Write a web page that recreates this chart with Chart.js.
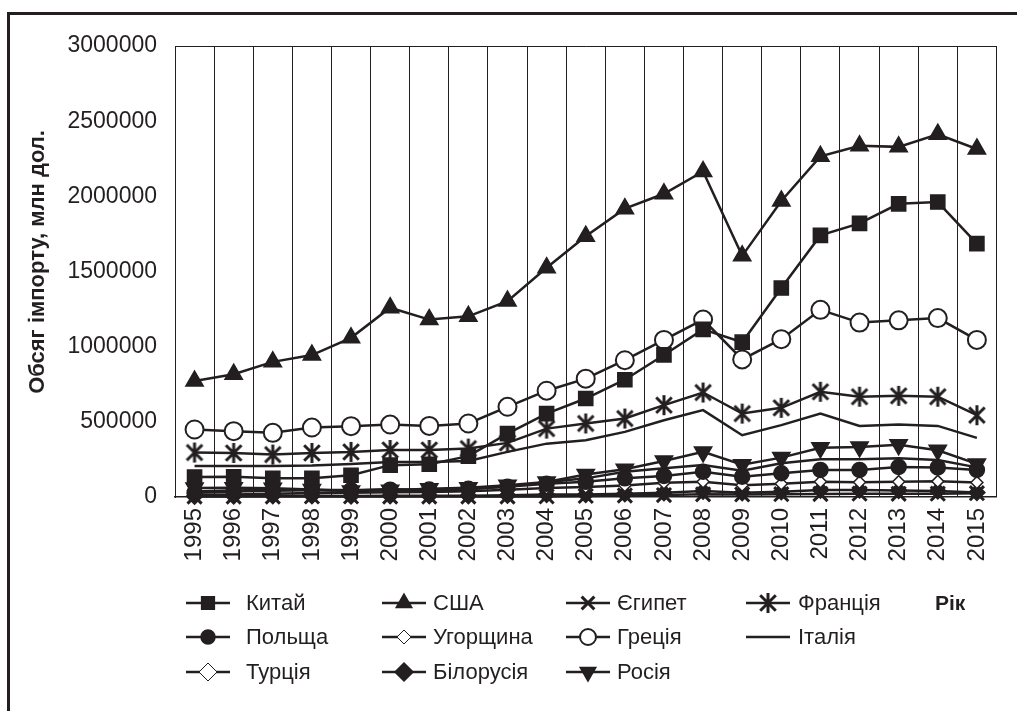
<!DOCTYPE html>
<html lang="uk">
<head>
<meta charset="UTF-8">
<title>Обсяг імпорту</title>
<script src="https://cdn.jsdelivr.net/npm/chart.js"></script>
<style>
  body { margin: 0; background: #fff; }
</style>
</head>
<body>
<canvas id="myChart" width="1017" height="711"></canvas>
<script>
// роки і дані (млн дол.)
const years = ['1995','1996','1997','1998','1999','2000','2001','2002','2003','2004','2005',
               '2006','2007','2008','2009','2010','2011','2012','2013','2014','2015'];
const yTicks = [0, 500000, 1000000, 1500000, 2000000, 2500000, 3000000];

const china   = [133000, 135000, 125000, 125000, 145000, 212000, 218000, 272000, 422000, 555000, 655000,
                 780000, 945000, 1115000, 1030000, 1390000, 1740000, 1820000, 1950000, 1962000, 1685000];
const usa     = [771000, 817000, 899000, 944000, 1059000, 1259000, 1180000, 1202000, 1303000, 1525000, 1735000,
                 1918000, 2017000, 2165000, 1604000, 1969000, 2266000, 2336000, 2329000, 2413000, 2315000];
const egypt   = [3000, 3000, 3000, 3500, 3500, 3000, 3000, 3000, 3000, 4000, 7000,
                 10000, 13000, 18000, 17000, 19000, 20000, 22000, 21000, 22000, 25000];
const france  = [296000, 293000, 282000, 293000, 300000, 313000, 313000, 322000, 360000, 455000, 489000,
                 522000, 611000, 695000, 555000, 593000, 700000, 667000, 673000, 667000, 544000];
const poland  = [29000, 37000, 42000, 47000, 46000, 49000, 50000, 55000, 68000, 88000, 101000,
                 124000, 140000, 168000, 135000, 158000, 180000, 180000, 200000, 197000, 180000];
const hungary = [15000, 16000, 21000, 26000, 28000, 32000, 34000, 38000, 48000, 60000, 66000,
                 77000, 94000, 102000, 78000, 88000, 102000, 98000, 102000, 104000, 96000];
const greece  = [449000, 438000, 427000, 462000, 471000, 482000, 473000, 489000, 600000, 707000, 787000,
                 910000, 1045000, 1180000, 915000, 1050000, 1245000, 1160000, 1175000, 1190000, 1045000];
const italy   = [207000, 207000, 207000, 210000, 220000, 233000, 233000, 240000, 300000, 355000, 378000,
                 433000, 511000, 578000, 411000, 478000, 555000, 473000, 482000, 473000, 393000];
const turkey  = [36000, 43000, 49000, 46000, 41000, 54000, 41000, 52000, 69000, 98000, 124000,
                 168000, 191000, 213000, 175000, 224000, 251000, 251000, 257000, 246000, 197000];
const belarus = [5500, 7000, 8700, 8500, 6700, 8600, 8300, 9100, 11600, 16500, 16700,
                 22300, 28700, 39400, 28600, 34900, 45800, 46400, 43000, 40500, 30300];
const russia  = [60000, 62000, 58000, 50000, 40000, 45000, 55000, 62000, 78000, 100000, 150000,
                 185000, 240000, 300000, 215000, 262000, 327000, 333000, 347000, 311000, 220000];

const ink = '#231f20';
const font = "'Liberation Sans', Arial, sans-serif";

// зірочка як у Excel: вертикаль + X
function makeAsterisk(size, lw) {
    let c = document.createElement('canvas');
    c.width = size; c.height = size;
    let g = c.getContext('2d');
    g.strokeStyle = ink; g.lineWidth = lw; g.lineCap = 'butt';
    let m = size / 2, r = size / 2 - 1, d = r * 0.78;
    g.beginPath();
    g.moveTo(m, m - r); g.lineTo(m, m + r);
    g.moveTo(m - d, m - d); g.lineTo(m + d, m + d);
    g.moveTo(m + d, m - d); g.lineTo(m - d, m + d);
    g.stroke();
    return c;
}
const star = makeAsterisk(22, 3);

function series(label, data, style, radius, fill, extra) {
    return Object.assign({
        label: label,
        data: data,
        borderColor: ink,
        borderWidth: 2.5,
        pointStyle: style,
        pointRadius: radius,
        pointHoverRadius: radius,
        pointBackgroundColor: fill,
        pointBorderColor: ink,
        pointBorderWidth: 1.5,
        tension: 0,
        fill: false,
        clip: false
    }, extra || {});
}

const datasets = [
    series('Китай', china, 'rect', 10, ink),
    series('США', usa, 'triangle', 10, ink),
    series('Єгипет', egypt, 'crossRot', 10, ink, { pointBorderWidth: 3 }),
    series('Франція', france, star, 11, ink),
    series('Польща', poland, 'circle', 7.5, ink),
    series('Угорщина', hungary, 'rectRot', 6, '#ffffff'),
    series('Греція', greece, 'circle', 9, '#ffffff', { pointBorderWidth: 2 }),
    series('Італія', italy, 'circle', 0, ink),
    series('Турція', turkey, 'rectRot', 0, '#ffffff'),
    series('Білорусія', belarus, 'rectRot', 8, ink),
    series('Росія', russia, 'triangle', 10, ink, { pointRotation: 180 })
];

// легенда: 4 колонки, як в оригіналі
const legendLineX = [186, 382, 566, 746];
const legendTextX = [246, 433, 617, 798];
const legendRows = [603, 637, 672];
const legendMarks = {
    'Китай': { pointStyle: 'rect', radius: 9, fill: ink, bw: 1.5 },
    'США': { pointStyle: 'triangle', radius: 9, fill: ink, bw: 1.5 },
    'Єгипет': { pointStyle: 'crossRot', radius: 9, fill: ink, bw: 3 },
    'Франція': { pointStyle: star, radius: 10, fill: ink, bw: 1.5 },
    'Польща': { pointStyle: 'circle', radius: 7, fill: ink, bw: 1.5 },
    'Угорщина': { pointStyle: 'rectRot', radius: 7, fill: '#fff', bw: 1 },
    'Греція': { pointStyle: 'circle', radius: 8, fill: '#fff', bw: 2 },
    'Італія': null,
    'Турція': { pointStyle: 'rectRot', radius: 9, fill: '#fff', bw: 1 },
    'Білорусія': { pointStyle: 'rectRot', radius: 9, fill: ink, bw: 1.5 },
    'Росія': { pointStyle: 'triangle', radius: 9, fill: ink, bw: 1.5, rotation: 180 }
};

const framePlugin = {
    id: 'frame',
    afterDraw(chart) {
        let ctx = chart.ctx;
        ctx.save();
        // рамка зверху і зліва
        ctx.strokeStyle = ink;
        ctx.lineWidth = 3;
        ctx.beginPath();
        ctx.moveTo(8.5, 711);
        ctx.lineTo(8.5, 13.5);
        ctx.lineTo(1017, 13.5);
        ctx.stroke();

        // назва осі Y (трохи вище центру, як в оригіналі)
        ctx.save();
        ctx.translate(38, 262);
        ctx.rotate(-Math.PI / 2);
        ctx.font = 'bold 22px ' + font;
        ctx.fillStyle = ink;
        ctx.textAlign = 'center';
        ctx.textBaseline = 'middle';
        ctx.fillText('Обсяг імпорту, млн дол.', 0, 0);
        ctx.restore();

        // легенда
        ctx.font = '22px ' + font;
        ctx.textBaseline = 'middle';
        chart.data.datasets.forEach(function (ds, i) {
            let col = i % 4;
            let x0 = legendLineX[col];
            let y = legendRows[Math.floor(i / 4)];
            ctx.strokeStyle = ink;
            ctx.lineWidth = 2.5;
            ctx.beginPath();
            ctx.moveTo(x0, y);
            ctx.lineTo(x0 + 44, y);
            ctx.stroke();
            let m = legendMarks[ds.label];
            if (m) {
                ctx.fillStyle = m.fill;
                ctx.strokeStyle = ink;
                ctx.lineWidth = m.bw;
                Chart.helpers.drawPoint(ctx, {
                    pointStyle: m.pointStyle, radius: m.radius,
                    rotation: m.rotation || 0, borderWidth: m.bw
                }, x0 + 22, y);
            }
            ctx.fillStyle = ink;
            ctx.textAlign = 'left';
            ctx.fillText(ds.label, legendTextX[col], y + 1);
        });
        // підпис осі X
        ctx.fillStyle = ink;
        ctx.font = 'bold 21px ' + font;
        ctx.fillText('Рік', 935, legendRows[0] + 1);
        ctx.restore();
    }
};

let ctx = document.getElementById('myChart').getContext('2d');
let myChart = new Chart(ctx, {
    type: 'line',
    data: { labels: years, datasets: datasets },
    options: {
        responsive: false,
        animation: false,
        devicePixelRatio: 1,
        layout: { padding: { left: 0, right: 7, top: 46, bottom: 140 } },
        plugins: {
            legend: { display: false },
            tooltip: { enabled: false }
        },
        scales: {
            x: {
                offset: true,
                grid: { offset: true, color: ink, lineWidth: 1, drawTicks: false },
                border: { color: ink, width: 1.5 },
                ticks: {
                    color: ink, font: { family: font, size: 24 },
                    maxRotation: 90, minRotation: 90, autoSkip: false, padding: 11
                },
                afterFit(scale) { scale.height = 74; }
            },
            y: {
                min: 0,
                max: 3000000,
                afterBuildTicks(scale) { scale.ticks = yTicks.map(v => ({ value: v })); },
                grid: {
                    drawTicks: false,
                    color: c => (c.tick && c.tick.value === 3000000) ? ink : 'rgba(0,0,0,0)',
                    lineWidth: 1
                },
                border: { color: ink, width: 1 },
                ticks: {
                    color: ink, font: { family: font, size: 23 }, padding: 18,
                    callback: v => String(v)
                },
                afterFit(scale) { scale.width = 175; }
            }
        }
    },
    plugins: [framePlugin]
});
</script>
</body>
</html>
